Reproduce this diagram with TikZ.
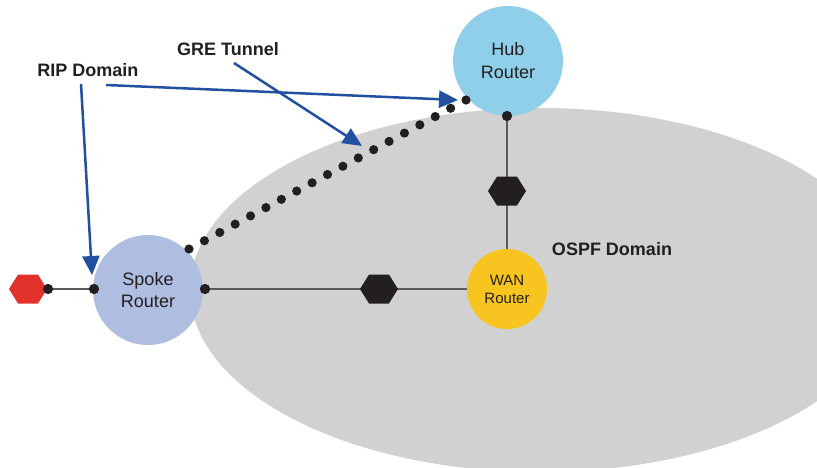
\documentclass[tikz,border=0pt]{standalone}
\usepackage{fontspec}
\setmainfont{Liberation Sans}
\usetikzlibrary{arrows.meta,shapes.symbols,calc}
\definecolor{txt}{HTML}{231F20}
\definecolor{ospfgray}{HTML}{D1D1D1}
\definecolor{spokeblue}{HTML}{AEBDE0}
\definecolor{hubblue}{HTML}{8FCFEA}
\definecolor{wanyellow}{HTML}{F8C520}
\definecolor{hexred}{HTML}{E0312B}
\definecolor{arrowblue}{HTML}{2150A0}
\definecolor{linegray}{HTML}{5A5A5A}
\tikzset{
  router/.style={circle,inner sep=0pt,text=txt,align=center},
  dotnode/.style={circle,fill=txt,inner sep=0pt,minimum size=10pt},
  hexnode/.style={signal,signal to=east and west,signal pointer angle=116,fill=txt,inner sep=0pt,minimum width=38pt,minimum height=29pt},
  link/.style={draw=linegray,line width=1.3pt},
  callout/.style={draw=arrowblue,line width=2.5pt,-{Triangle[length=19pt,width=17pt]}},
  lbl/.style={font=\fontsize{18}{20}\selectfont\bfseries,text=txt,inner sep=0pt}
}
\begin{document}
\begin{tikzpicture}[x=1pt,y=-1pt]
\useasboundingbox (0,0) rectangle (817,467);
\begin{scope}
\clip (0,0) rectangle (817,467);
\fill[ospfgray] (540,290) ellipse [x radius=350, y radius=182];
\end{scope}
% routers
\node[router,fill=spokeblue,minimum size=110pt,font=\fontsize{18}{22}\selectfont] (spoke) at (148,290) {Spoke\\Router};
\node[router,fill=hubblue,minimum size=110pt,font=\fontsize{18}{23}\selectfont] (hub) at (508,61) {Hub\\Router};
\node[router,fill=wanyellow,minimum size=80pt,font=\fontsize{15}{18}\selectfont] (wan) at (507,289) {WAN\\Router};
% dots on routers
\node[dotnode] (spokeL) at (94,289) {};
\node[dotnode] (spokeR) at (205,289) {};
\node[dotnode] (hubB) at (507,116) {};
\node[dotnode] (redD) at (48,289) {};
% links
\path[link] (redD) -- (spokeL);
\path[link] (spokeR) -- (spokeR -| wan.west);
\path[link] (hubB) -- (wan.north);
% hexagons
\node[hexnode,fill=hexred] (redhex) at (28,289) {};
\node[hexnode] (hexH) at (379,289) {};
\node[hexnode] (hexV) at (507,191) {};
\node[dotnode] at (redD) {};
\node[dotnode] at (spokeL) {};
\node[dotnode] at (spokeR) {};
\node[dotnode] at (hubB) {};
% GRE tunnel dots
\coordinate (gs) at (189,249);
\coordinate (ge) at (466,100);
\foreach \i in {0,...,18}
  \fill[txt] ($(gs)!\i/18!(ge)$) circle (4.6pt);
% labels
\node[lbl] (rip) at (88,70) {RIP Domain};
\node[lbl] (gre) at (228,49) {GRE Tunnel};
\node[lbl] (ospf) at (612,249) {OSPF Domain};
% callout arrows
\coordinate (ripA) at (106,85);
\coordinate (ripB) at (81,84);
\coordinate (greA) at (234,63);
\coordinate (tipHub) at (458,100);
\coordinate (tipSpoke) at (92,275);
\coordinate (tipGre) at (362,146);
\draw[callout] (ripA) -- (tipHub);
\draw[callout] (ripB) -- (tipSpoke);
\draw[callout] (greA) -- (tipGre);
\end{tikzpicture}
\end{document}
